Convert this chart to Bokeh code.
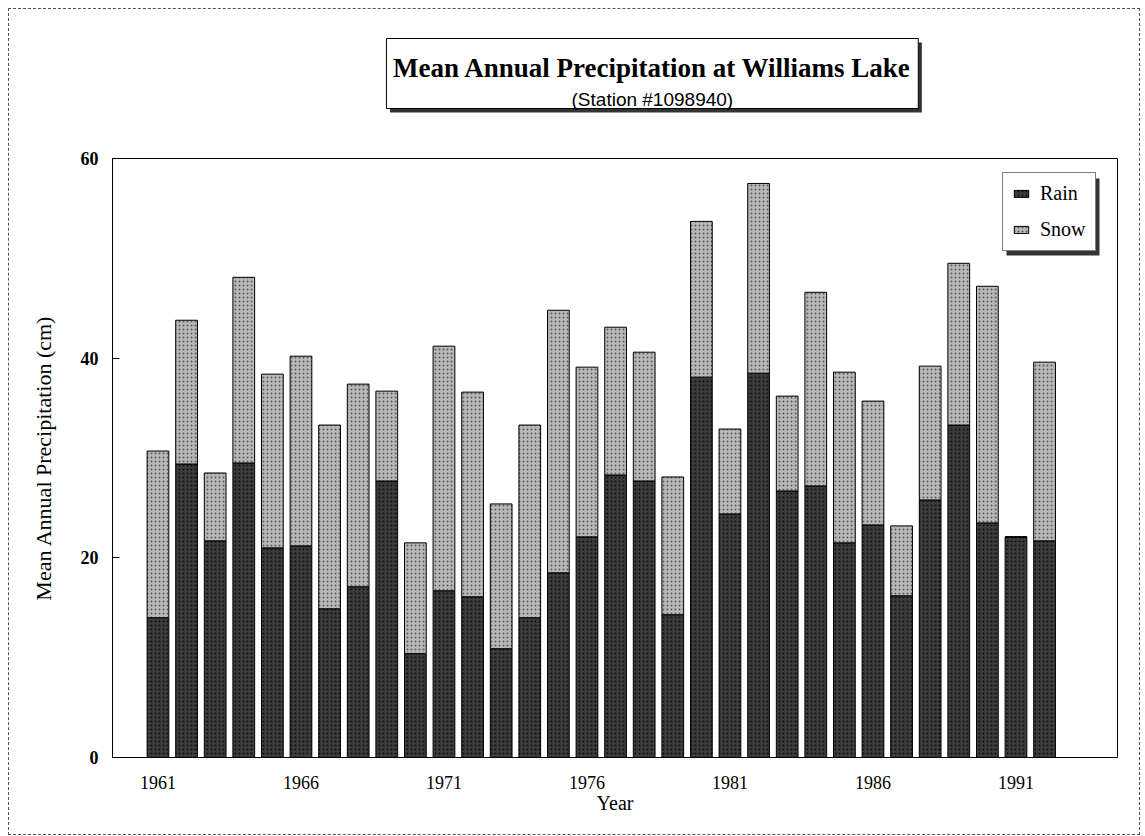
from bokeh.plotting import figure
from bokeh.layouts import column
from bokeh.models import ColumnDataSource, Range1d, FixedTicker, BoxAnnotation
from bokeh.core.properties import value
from bokeh.embed import file_html
from bokeh.resources import INLINE

years = list(range(1961, 1993))
rain = [14.0, 29.4, 21.7, 29.5, 21.0, 21.2, 14.9, 17.1, 27.7, 10.4, 16.7, 16.1,
        10.9, 14.0, 18.5, 22.1, 28.3, 27.7, 14.3, 38.1, 24.4, 38.5, 26.7, 27.2,
        21.5, 23.3, 16.2, 25.8, 33.3, 23.5, 22.1, 21.7]
snow = [16.7, 14.4, 6.8, 18.6, 17.4, 19.0, 18.4, 20.3, 9.0, 11.1, 24.5, 20.5,
        14.5, 19.3, 26.3, 17.0, 14.8, 12.9, 13.8, 15.6, 8.5, 19.0, 9.5, 19.4,
        17.1, 12.4, 7.0, 13.4, 16.2, 23.7, 0.0, 17.9]
series = ["rain", "snow"]
series_labels = ["Rain", "Snow"]
x_ticks = [1961, 1966, 1971, 1976, 1981, 1986, 1991]
y_ticks = [0, 20, 40, 60]

title_text = "Mean Annual Precipitation at Williams Lake"
subtitle_text = "(Station #1098940)"

SERIF = "Liberation Serif"
SANS = "Liberation Sans"
W = 1130
TOP_H = 130
MAIN_H = 695

# ---------------- title panel ----------------
t = figure(width=W, height=TOP_H, output_backend="svg", toolbar_location=None,
           x_range=Range1d(0, W), y_range=Range1d(TOP_H, 0),
           x_axis_location=None, y_axis_location=None,
           min_border=0, outline_line_color=None)
t.grid.visible = False
t.quad(left=[312], right=[910], top=[33], bottom=[103],
       fill_color="#333333", line_color=None)
t.quad(left=[308], right=[906], top=[29], bottom=[99],
       fill_color="white", line_color="black", line_width=1)
t.text(x=[607], y=[58], text=[title_text], text_font=value(SERIF),
       text_font_style="bold", text_font_size="27px", text_align="center",
       text_baseline="alphabetic", text_color="black")
t.text(x=[607], y=[90], text=[subtitle_text], text_font=value(SANS),
       text_font_size="19px", text_align="center",
       text_baseline="alphabetic", text_color="black")

# ---------------- main chart ----------------
source = ColumnDataSource(dict(year=years, rain=rain, snow=snow))

p = figure(width=W, height=MAIN_H, output_backend="svg", toolbar_location=None,
           x_range=Range1d(1959.41, 1994.55), y_range=Range1d(0, 60),
           min_border_left=103, min_border_right=22, min_border_top=19,
           min_border_bottom=77)
p.grid.visible = False
p.outline_line_color = "black"
p.outline_line_width = 1

p.vbar_stack(series, x="year", width=0.76, source=source,
             fill_color=["#3c3c3c", "#b8b8b8"],
             hatch_pattern=["dot", "dot"],
             hatch_color=["#0c0c0c", "#5a5a5a"],
             hatch_scale=[4, 4], hatch_weight=[1, 1],
             line_color="black", line_width=1,
             legend_label=series_labels)

p.yaxis.ticker = FixedTicker(ticks=y_ticks)
p.xaxis.ticker = FixedTicker(ticks=x_ticks)
for ax in (p.xaxis[0], p.yaxis[0]):
    ax.major_tick_out = 0
    ax.minor_tick_line_color = None
    ax.axis_line_color = "black"
    ax.major_label_text_font = SERIF
    ax.major_label_text_color = "black"
    ax.axis_label_text_font = SERIF
    ax.axis_label_text_font_style = "normal"
    ax.axis_label_text_color = "black"
p.yaxis.major_tick_in = 7
p.xaxis.major_tick_in = 0
p.yaxis.major_label_text_font_size = "18px"
p.yaxis.major_label_text_font_style = "bold"
p.yaxis.major_label_standoff = 14
p.yaxis.axis_label = "Mean Annual Precipitation (cm)"
p.yaxis.axis_label_text_font_size = "22px"
p.yaxis.axis_label_standoff = 22
p.xaxis.major_label_text_font_size = "18px"
p.xaxis.major_label_standoff = 18
p.xaxis.axis_label = "Year"
p.xaxis.axis_label_text_font_size = "20px"
p.xaxis.axis_label_standoff = 0

# legend with a drop shadow
lg = p.legend[0]
lg.location = (890, 506)
lg.label_text_font = SERIF
lg.label_text_font_size = "20px"
lg.label_text_color = "black"
lg.label_standoff = 10
lg.glyph_width = 18
lg.glyph_height = 9
lg.label_height = 23
lg.spacing = 13
lg.padding = 9
lg.border_line_color = "black"
lg.border_line_width = 1
lg.background_fill_alpha = 1
legend_shadow = BoxAnnotation(left=894, right=987, bottom=502, top=579,
                              left_units="screen", right_units="screen",
                              top_units="screen", bottom_units="screen",
                              fill_color="#333333", fill_alpha=1, line_color=None)
p.add_layout(legend_shadow)

layout = column(t, p, spacing=0)
layout.styles = {"margin": "8px 0 0 8px", "border": "1px dashed #555555"}

open("out.html", "w").write(file_html(layout, INLINE))
